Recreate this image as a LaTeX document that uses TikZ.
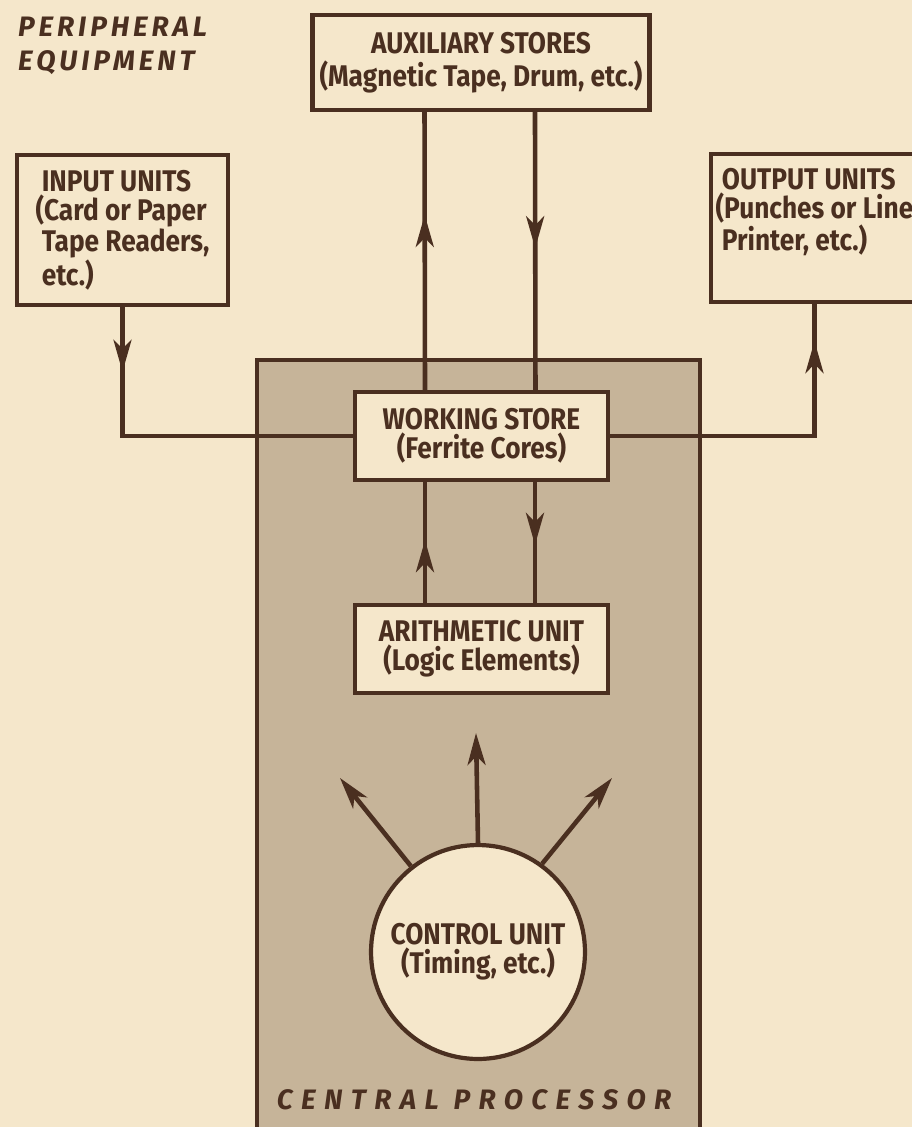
\documentclass[tikz,border=0pt]{standalone}
\usepackage{fontspec}
\setmainfont{Fira Sans}[FakeStretch=0.88]
\newfontfamily\letterfont{Fira Sans}[LetterSpace=14]
\usetikzlibrary{arrows.meta,decorations.markings}
\definecolor{paper}{RGB}{245,231,203}
\definecolor{inkbrown}{RGB}{74,47,32}
\definecolor{dotgrey}{RGB}{198,180,153}
\tikzset{tipmark/.tip={Stealth[length=0.64cm, width=0.36cm, inset=0.18cm]}}

\begin{document}
\begin{tikzpicture}[x=0.02cm, y=-0.02cm,
    unitbox/.style={draw=inkbrown, fill=paper, line width=2.4pt, text=inkbrown,
        font=\bfseries\fontsize{17}{16.5}\selectfont, inner sep=0pt, align=center},
    flow/.style={draw=inkbrown, line width=2.6pt},
    midarrow/.style={postaction={decorate}, decoration={markings,
        mark=at position #1 with {\arrow[inkbrown]{tipmark}}}},
    caption/.style={text=inkbrown, font=\letterfont\bfseries\itshape\fontsize{16}{19}\selectfont}]
% Paper and frame
\fill[paper] (0,0) rectangle (912,1127);
\useasboundingbox (0,0) rectangle (912,1127);

% Central processor area
\node[draw=inkbrown, fill=dotgrey, line width=2.4pt, anchor=north west,
      minimum width=8.86cm, minimum height=15.8cm, inner sep=0pt] (cp) at (255,358) {};
\node[caption] (cplabel) at (474,1100) {\addfontfeature{LetterSpace=30}CENTRAL PROCESSOR};
\node[caption, anchor=west, align=left] (periph) at (12,46) {PERIPHERAL\\EQUIPMENT};

% Units
\node[unitbox, minimum width=6.74cm, minimum height=1.9cm] (aux) at (481,62.5)
    {AUXILIARY STORES\\[2pt](Magnetic Tape, Drum, etc.)};
\node[unitbox, align=left, minimum width=4.22cm, minimum height=3cm] (in) at (122.5,230)
    {\ INPUT UNITS\\(Card or Paper\\\ Tape Readers,\\\ etc.)};
\node[unitbox, align=left, minimum width=4.14cm, minimum height=2.96cm] (out) at (814.5,228)
    {\ OUTPUT UNITS\\(Punches or Line\\\ Printer, etc.)\\\strut};
\node[unitbox, minimum width=5.06cm, minimum height=1.76cm] (ws) at (481.5,436)
    {WORKING STORE\\(Ferrite Cores)};
\node[unitbox, minimum width=5.06cm, minimum height=1.76cm] (au) at (481.5,649)
    {ARITHMETIC UNIT\\(Logic Elements)};
\node[unitbox, circle, minimum size=4.28cm] (cu) at (478,952)
    {CONTROL UNIT\\(Timing, etc.)};

% Connections
\draw[flow, midarrow=0.63] ([xshift=-1.13cm]ws.north) -- ([xshift=-1.13cm]aux.south);
\draw[flow, midarrow=0.49] ([xshift=1.08cm]aux.south) -- ([xshift=1.08cm]ws.north);
\draw[flow, midarrow=0.18] (in.south) |- (ws.west);
\draw[flow, midarrow=0.89] (ws.east) -| (out.south);
\draw[flow, midarrow=0.52] ([xshift=-1.13cm]au.north) -- ([xshift=-1.13cm]ws.south);
\draw[flow, midarrow=0.52] ([xshift=1.07cm]ws.south) -- ([xshift=1.07cm]au.north);

% Control signals
\coordinate (cuup) at (476,733);
\coordinate (culeft) at (340,778);
\coordinate (curight) at (612,778);
\foreach \a/\t in {90/cuup,128/culeft,54/curight} {
    \draw[flow, -{tipmark}] (cu.\a) -- (\t);
}
\end{tikzpicture}
\end{document}
